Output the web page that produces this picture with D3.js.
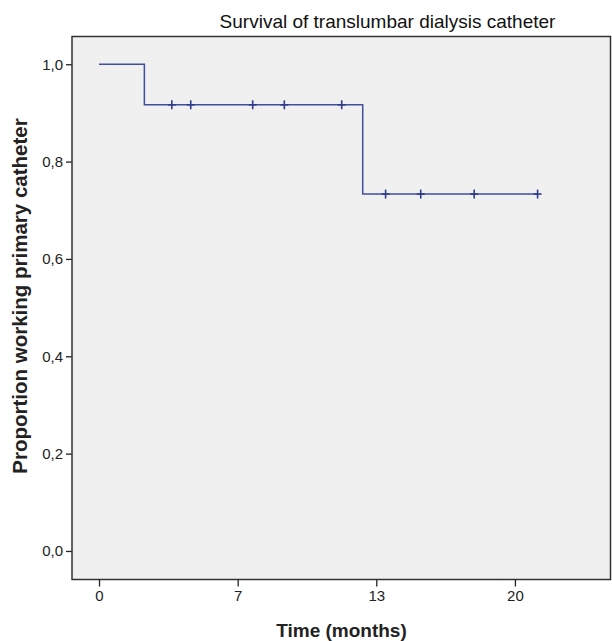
<!DOCTYPE html>
<html>
<head>
<meta charset="utf-8">
<script src="https://cdn.jsdelivr.net/npm/d3@7"></script>
<style>
  html, body { margin: 0; padding: 0; background: #fff; }
  svg { display: block; }
  text { font-family: "Liberation Sans", Arial, sans-serif; }
</style>
</head>
<body>
<svg id="chart" width="612" height="641"></svg>
<script>
// ---- data ----
const stepTimes = [0, 2.18, 12.68, 21.09];
const stepSurvival = [1.0, 0.9167, 0.7333, 0.7333];
const censorTimes = [3.50, 4.41, 7.39, 8.91, 11.67, 13.78, 15.47, 18.04, 21.09];
const censorSurvival = [0.9167, 0.9167, 0.9167, 0.9167, 0.9167, 0.7333, 0.7333, 0.7333, 0.7333];
const xTickValues = [0, 6.667, 13.333, 20];
const xTickLabels = ["0", "7", "13", "20"];
const yTickValues = [0, 0.2, 0.4, 0.6, 0.8, 1.0];
const yTickLabels = ["0,0", "0,2", "0,4", "0,6", "0,8", "1,0"];
const titleText = "Survival of translumbar dialysis catheter";
const xTitle = "Time (months)";
const yTitle = "Proportion working primary catheter";

// ---- layout ----
const W = 612, H = 641;
const m = { left: 72, top: 36.5, right: 1, bottom: 61.5 };
const pw = W - m.left - m.right, ph = H - m.top - m.bottom;

const svg = d3.select("#chart");
const x = d3.scaleLinear().domain([-1.30, 24.62]).range([m.left, m.left + pw]);
const y = d3.scaleLinear().domain([-0.0586, 1.057]).range([m.top + ph, m.top]);

// plot background
svg.append("rect")
  .attr("x", m.left).attr("y", m.top).attr("width", pw).attr("height", ph)
  .attr("fill", "#f0f0f0");

// axes
const xAxis = svg.append("g")
  .attr("transform", `translate(0,${m.top + ph})`)
  .call(d3.axisBottom(x).tickValues(xTickValues).tickFormat((d, i) => xTickLabels[i]).tickSize(7).tickPadding(4));
const yAxis = svg.append("g")
  .attr("transform", `translate(${m.left},0)`)
  .call(d3.axisLeft(y).tickValues(yTickValues).tickFormat((d, i) => yTickLabels[i]).tickSize(6).tickPadding(3));
[xAxis, yAxis].forEach(g => {
  g.select(".domain").remove();
  g.selectAll(".tick line").attr("stroke", "#222").attr("stroke-width", 1.3);
  g.selectAll(".tick text").attr("fill", "#222").style("font-size", "15px")
    .style("font-family", "'Liberation Sans', Arial, sans-serif");
});

// frame
svg.append("rect")
  .attr("x", m.left).attr("y", m.top).attr("width", pw - 0.5).attr("height", ph)
  .attr("fill", "none").attr("stroke", "#333").attr("stroke-width", 1.5);

// survival step line
const pts = stepTimes.map((t, i) => [t, stepSurvival[i]]);
const line = d3.line().x(d => x(d[0])).y(d => y(d[1])).curve(d3.curveStepAfter);
svg.append("path")
  .attr("d", line(pts))
  .attr("fill", "none").attr("stroke", "#3f4f9e").attr("stroke-width", 1.5);

// censor marks
const cg = svg.append("g").attr("stroke", "#2e3b8a").attr("stroke-width", 1.6);
censorTimes.forEach((t, i) => {
  const cx = x(t), cy = y(censorSurvival[i]);
  cg.append("line").attr("x1", cx).attr("x2", cx).attr("y1", cy - 4.5).attr("y2", cy + 4.5);
  cg.append("line").attr("x1", cx - 4).attr("x2", cx + 4).attr("y1", cy).attr("y2", cy);
});

// titles
svg.append("text")
  .attr("x", 387.5).attr("y", 28)
  .attr("text-anchor", "middle")
  .style("font-size", "19px").attr("fill", "#111")
  .text(titleText);

svg.append("text")
  .attr("x", m.left + pw / 2).attr("y", 637)
  .attr("text-anchor", "middle")
  .style("font-size", "19px").style("font-weight", "bold").attr("fill", "#222")
  .text(xTitle);

svg.append("text")
  .attr("transform", `translate(27,${m.top + ph / 2 - 12}) rotate(-90)`)
  .attr("text-anchor", "middle")
  .style("font-size", "20.5px").style("font-weight", "bold").attr("fill", "#222")
  .text(yTitle);
</script>
</body>
</html>
